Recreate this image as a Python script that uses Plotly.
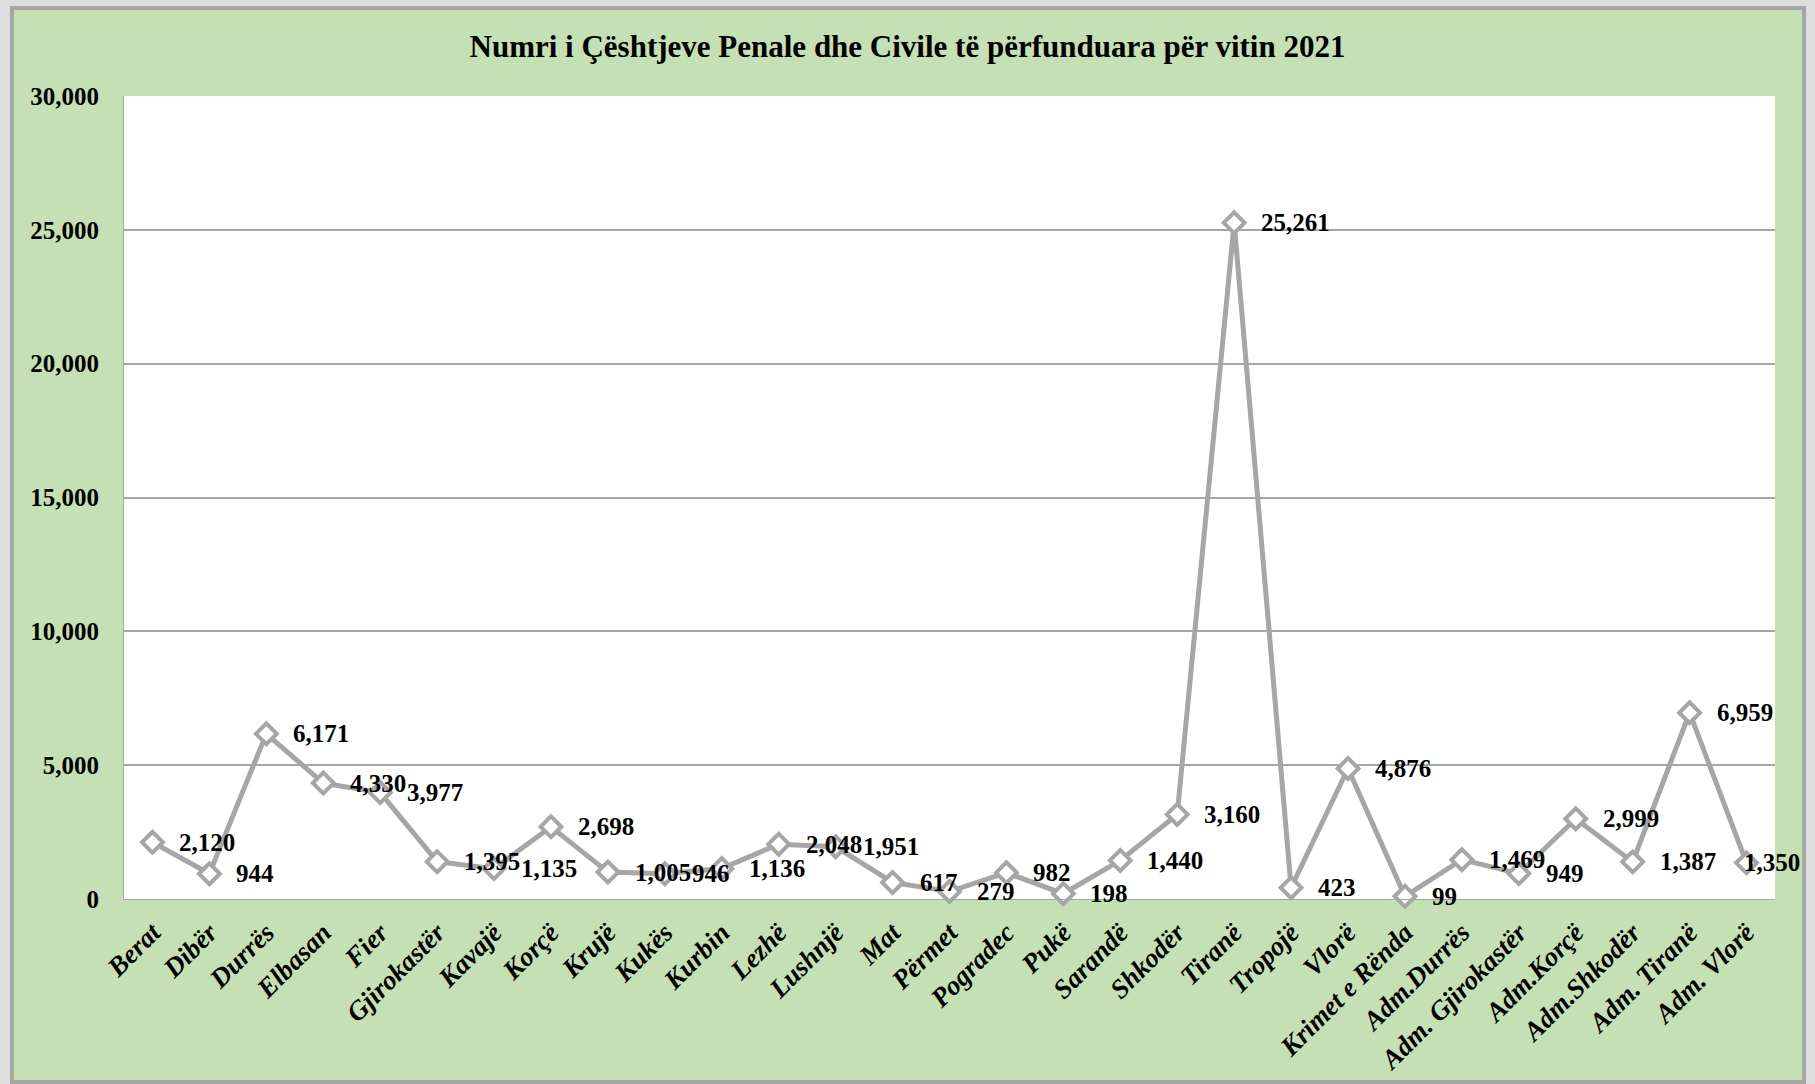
import plotly.graph_objects as go

categories = ["Berat", "Dibër", "Durrës", "Elbasan", "Fier", "Gjirokastër", "Kavajë", "Korçë",
              "Krujë", "Kukës", "Kurbin", "Lezhë", "Lushnjë", "Mat", "Përmet", "Pogradec", "Pukë",
              "Sarandë", "Shkodër", "Tiranë", "Tropojë", "Vlorë", "Krimet e Rënda", "Adm.Durrës",
              "Adm. Gjirokastër", "Adm.Korçë", "Adm.Shkodër", "Adm. Tiranë", "Adm. Vlorë"]
values = [2120, 944, 6171, 4330, 3977, 1395, 1135, 2698, 1005, 946, 1136, 2048, 1951, 617, 279,
          982, 198, 1440, 3160, 25261, 423, 4876, 99, 1469, 949, 2999, 1387, 6959, 1350]
y_ticks = [0, 5000, 10000, 15000, 20000, 25000, 30000]
title_text = "Numri i Çështjeve Penale dhe Civile të përfunduara për vitin 2021"

W, H = 1815, 1084
L, R, T, B = 124, 40, 96, 185
PW, PH = W - L - R, H - T - B

def px(x):
    return (x - L) / PW

def py(y):
    return (H - B - y) / PH

FONT = "Liberation Serif"
GRAY = "#A6A6A6"
GREEN = "#C5E0B4"
LIGHT = "#DEDEDE"

fig = go.Figure()
fig.add_trace(go.Scatter(
    x=categories, y=values, mode="lines+markers",
    line=dict(color=GRAY, width=5),
    marker=dict(symbol="diamond", size=16, color="white", line=dict(color=GRAY, width=4)),
    cliponaxis=False,
    showlegend=False,
    hoverinfo="skip",
))

annotations = []
for i, (c, v) in enumerate(zip(categories, values)):
    shift = -5 if i == len(categories) - 1 else 25
    annotations.append(dict(
        x=c, y=v, xref="x", yref="y", text=f"{v:,}", showarrow=False,
        xanchor="left", yanchor="middle", xshift=shift,
        font=dict(family=FONT, size=25, color="black", weight="bold"),
    ))

shapes = [
    dict(type="rect", xref="paper", yref="paper", x0=px(0), x1=px(W), y0=py(0), y1=py(6),
         fillcolor=LIGHT, line=dict(width=0), layer="below"),
    dict(type="rect", xref="paper", yref="paper", x0=px(0), x1=px(10), y0=py(0), y1=py(H),
         fillcolor=LIGHT, line=dict(width=0), layer="below"),
    dict(type="rect", xref="paper", yref="paper", x0=px(1806), x1=px(W), y0=py(0), y1=py(H),
         fillcolor=LIGHT, line=dict(width=0), layer="below"),
    dict(type="rect", xref="paper", yref="paper", x0=px(12), x1=px(1804), y0=py(1082), y1=py(8),
         fillcolor="rgba(0,0,0,0)", line=dict(color=GRAY, width=4), layer="below"),
]

fig.update_layout(
    width=W, height=H,
    margin=dict(l=L, r=R, t=T, b=B, pad=0, autoexpand=False),
    paper_bgcolor=GREEN,
    plot_bgcolor="white",
    shapes=shapes,
    annotations=annotations,
    title=dict(text=title_text, x=0.5, xref="container", xanchor="center",
               y=1 - 46 / H, yref="container", yanchor="middle",
               font=dict(family=FONT, size=31, color="black", weight="bold")),
    xaxis=dict(
        type="category", tickangle=-45, showgrid=False, showline=True, linecolor=GRAY, linewidth=1,
        ticks="", ticklabelstandoff=6, automargin=False,
        tickfont=dict(family=FONT, size=27, color="black", weight="bold", style="italic"),
        range=[-0.5, len(categories) - 0.5],
    ),
    yaxis=dict(
        range=[0, 30000], tickvals=y_ticks, tickformat=",", showgrid=True, gridcolor=GRAY,
        gridwidth=1.5, zeroline=False, showline=True, linecolor=GRAY, linewidth=1,
        ticks="", ticklabelstandoff=19, automargin=False,
        tickfont=dict(family=FONT, size=25, color="black", weight="bold"),
    ),
)

fig.write_html("out.html", config={"displayModeBar": False},
               post_script="document.body.style.margin='0';")
